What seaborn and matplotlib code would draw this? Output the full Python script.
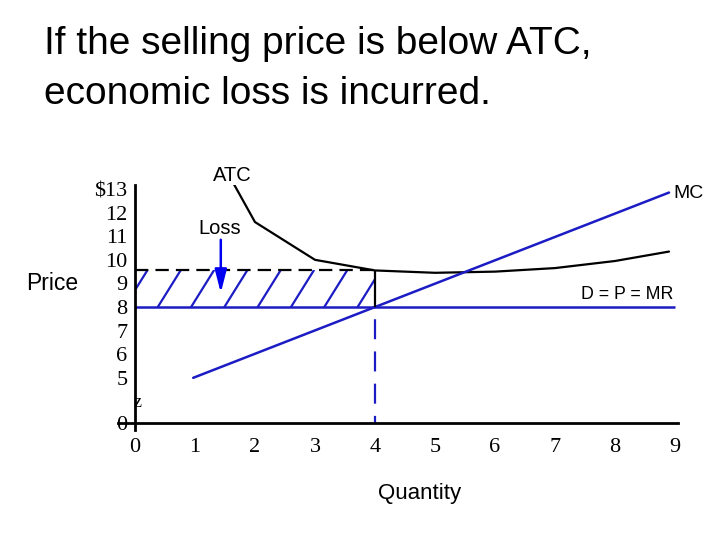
import matplotlib.pyplot as plt
import numpy as np
import pandas as pd
import seaborn as sns
from matplotlib.patches import Polygon

# ------------------------------------------
# Data
# ------------------------------------------

atc_q = [1.65, 2, 3, 4, 5, 6, 7, 8, 8.9]
atc_p = [13.2, 11.6, 10.0, 9.55, 9.45, 9.5, 9.65, 9.95, 10.35]

mc_q = [0.97, 8.9]
mc_p = [5.0, 12.85]

price = 8          # D = P = MR
q_star = 4         # output where MC = MR
atc_star = 9.55    # ATC at q_star

x_ticks = list(range(10))
y_ticks = [5, 6, 7, 8, 9, 10, 11, 12, 13]
y_labels = ["5", "6", "7", "8", "9", "10", "11", "12", "$13"]
zero_pos = 3.085   # the price axis is broken, 0 sits just below 5

blue = "#1c1cc4"
serif = "Liberation Serif"

# ------------------------------------------
# Figure
# ------------------------------------------

sns.set_style("white")
plt.rcParams["font.family"] = ["Liberation Sans", "DejaVu Sans"]
plt.rcParams["text.color"] = "black"
plt.rcParams["xtick.color"] = "black"
plt.rcParams["ytick.color"] = "black"

fig = plt.figure(figsize=(7.2, 5.4), dpi=100)
ax = fig.add_axes([118 / 720, 1 - 430 / 540, 560 / 720, 245 / 540])

atc = pd.DataFrame({"q": atc_q, "p": atc_p})
mc = pd.DataFrame({"q": mc_q, "p": mc_p})

sns.lineplot(data=atc, x="q", y="p", sort=False, estimator=None,
             color="black", lw=1.6, ax=ax)
sns.lineplot(data=mc, x="q", y="p", sort=False, estimator=None,
             color=blue, lw=1.8, ax=ax)

# demand / price line
ax.hlines(price, 0, 9, colors=blue, lw=1.8)

# loss rectangle with hatching
loss = Polygon([(0, price), (q_star, price), (q_star, atc_star), (0, atc_star)],
               closed=True, facecolor="none", edgecolor="none")
ax.add_patch(loss)
for b in 0.38 + 0.555 * np.arange(-1, 7):
    ax.plot([b, b + 0.38], [price, atc_star], color=blue, lw=1.6,
            clip_path=loss)

ax.hlines(atc_star, 0, q_star, colors="black", lw=1.6,
          linestyles=(0, (6, 3.2)))
ax.vlines(q_star, price, atc_star, colors="black", lw=1.6)
ax.plot([q_star, q_star], [price, zero_pos], color=blue, lw=1.6,
        linestyle=(9, (9, 5.5)))

ax.annotate("", xy=(1.43, 8.6), xytext=(1.43, 10.85),
            arrowprops=dict(arrowstyle="-|>,head_length=0.7,head_width=0.18",
                            color="#0000f0", lw=1.8, mutation_scale=20,
                            shrinkA=0, shrinkB=0))

# labels on the curves
ax.text(1.63, 13.34, "ATC", fontsize=14.5, ha="center", va="baseline",
        clip_on=False)
ax.text(1.42, 11.1, "Loss", fontsize=14.5, ha="center", va="baseline")
ax.text(8.97, 12.83, "MC", fontsize=14, ha="left", va="center",
        clip_on=False)
ax.text(8.97, 8.35, "D = P = MR", fontsize=12.8, ha="right", va="baseline")
ax.text(0.05, 3.97, "z", fontsize=13, family=serif, ha="center",
        va="center")

# ------------------------------------------
# Axes
# ------------------------------------------

ax.set_xlim(-0.283, 9.05)
ax.set_ylim(2.79, 13.17)

for side in ["top", "right"]:
    ax.spines[side].set_visible(False)
ax.spines["left"].set_position(("data", 0))
ax.spines["bottom"].set_position(("data", zero_pos))
for side in ["left", "bottom"]:
    ax.spines[side].set_linewidth(2)
    ax.spines[side].set_color("black")

ax.set_xticks(x_ticks)
ax.set_xticklabels([str(t) for t in x_ticks], family=serif, fontsize=16)
ax.set_yticks([zero_pos] + y_ticks)
ax.set_yticklabels(["0"] + y_labels, family=serif, fontsize=16)

ax.tick_params(axis="x", direction="inout", length=10, width=1.5, pad=6)
ax.tick_params(axis="y", direction="inout", length=9, width=1.5, pad=1)

ax.set_xlabel("")
ax.set_ylabel("")

fig.text(26 / 720, 1 - 283 / 540, "Price", fontsize=16.5, ha="left",
         va="center")
fig.text(420 / 720, 1 - 493 / 540, "Quantity", fontsize=16, ha="center",
         va="center")

fig.text(44 / 720, 1 - 54 / 540, "If the selling price is below ATC,",
         fontsize=28, ha="left", va="baseline")
fig.text(44 / 720, 1 - 104 / 540, "economic loss is incurred.",
         fontsize=28, ha="left", va="baseline")

fig.savefig("out.png", dpi=100)
